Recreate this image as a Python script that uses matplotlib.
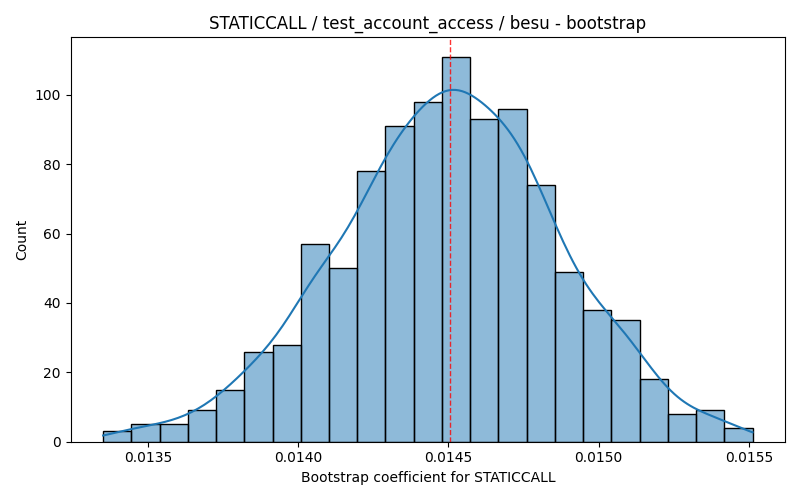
import numpy as np
import matplotlib
matplotlib.use("Agg")
import matplotlib.pyplot as plt
import seaborn as sns

# Histogram counts
counts = [3, 5, 5, 9, 15, 26, 28, 57, 50, 78, 91, 98, 111, 93, 96, 74, 49, 38, 35, 18, 8, 9, 4]
x_min = 0.013351
x_max = 0.0155125
mean_value = 0.014507

edges = np.linspace(x_min, x_max, len(counts) + 1)
centers = (edges[:-1] + edges[1:]) / 2
samples = np.repeat(centers, counts)

fig, ax = plt.subplots(figsize=(8, 5), dpi=100)
sns.histplot(x=samples, bins=edges, kde=True, ax=ax, edgecolor="black",
             kde_kws={"cut": 3, "clip": (x_min, x_max)})
ax.axvline(mean_value, color="red", linestyle="--", linewidth=1, alpha=0.8)
ax.set_title("STATICCALL / test_account_access / besu - bootstrap")
ax.set_xlabel("Bootstrap coefficient for STATICCALL")
ax.set_ylabel("Count")
fig.tight_layout()
fig.savefig("out.png")
